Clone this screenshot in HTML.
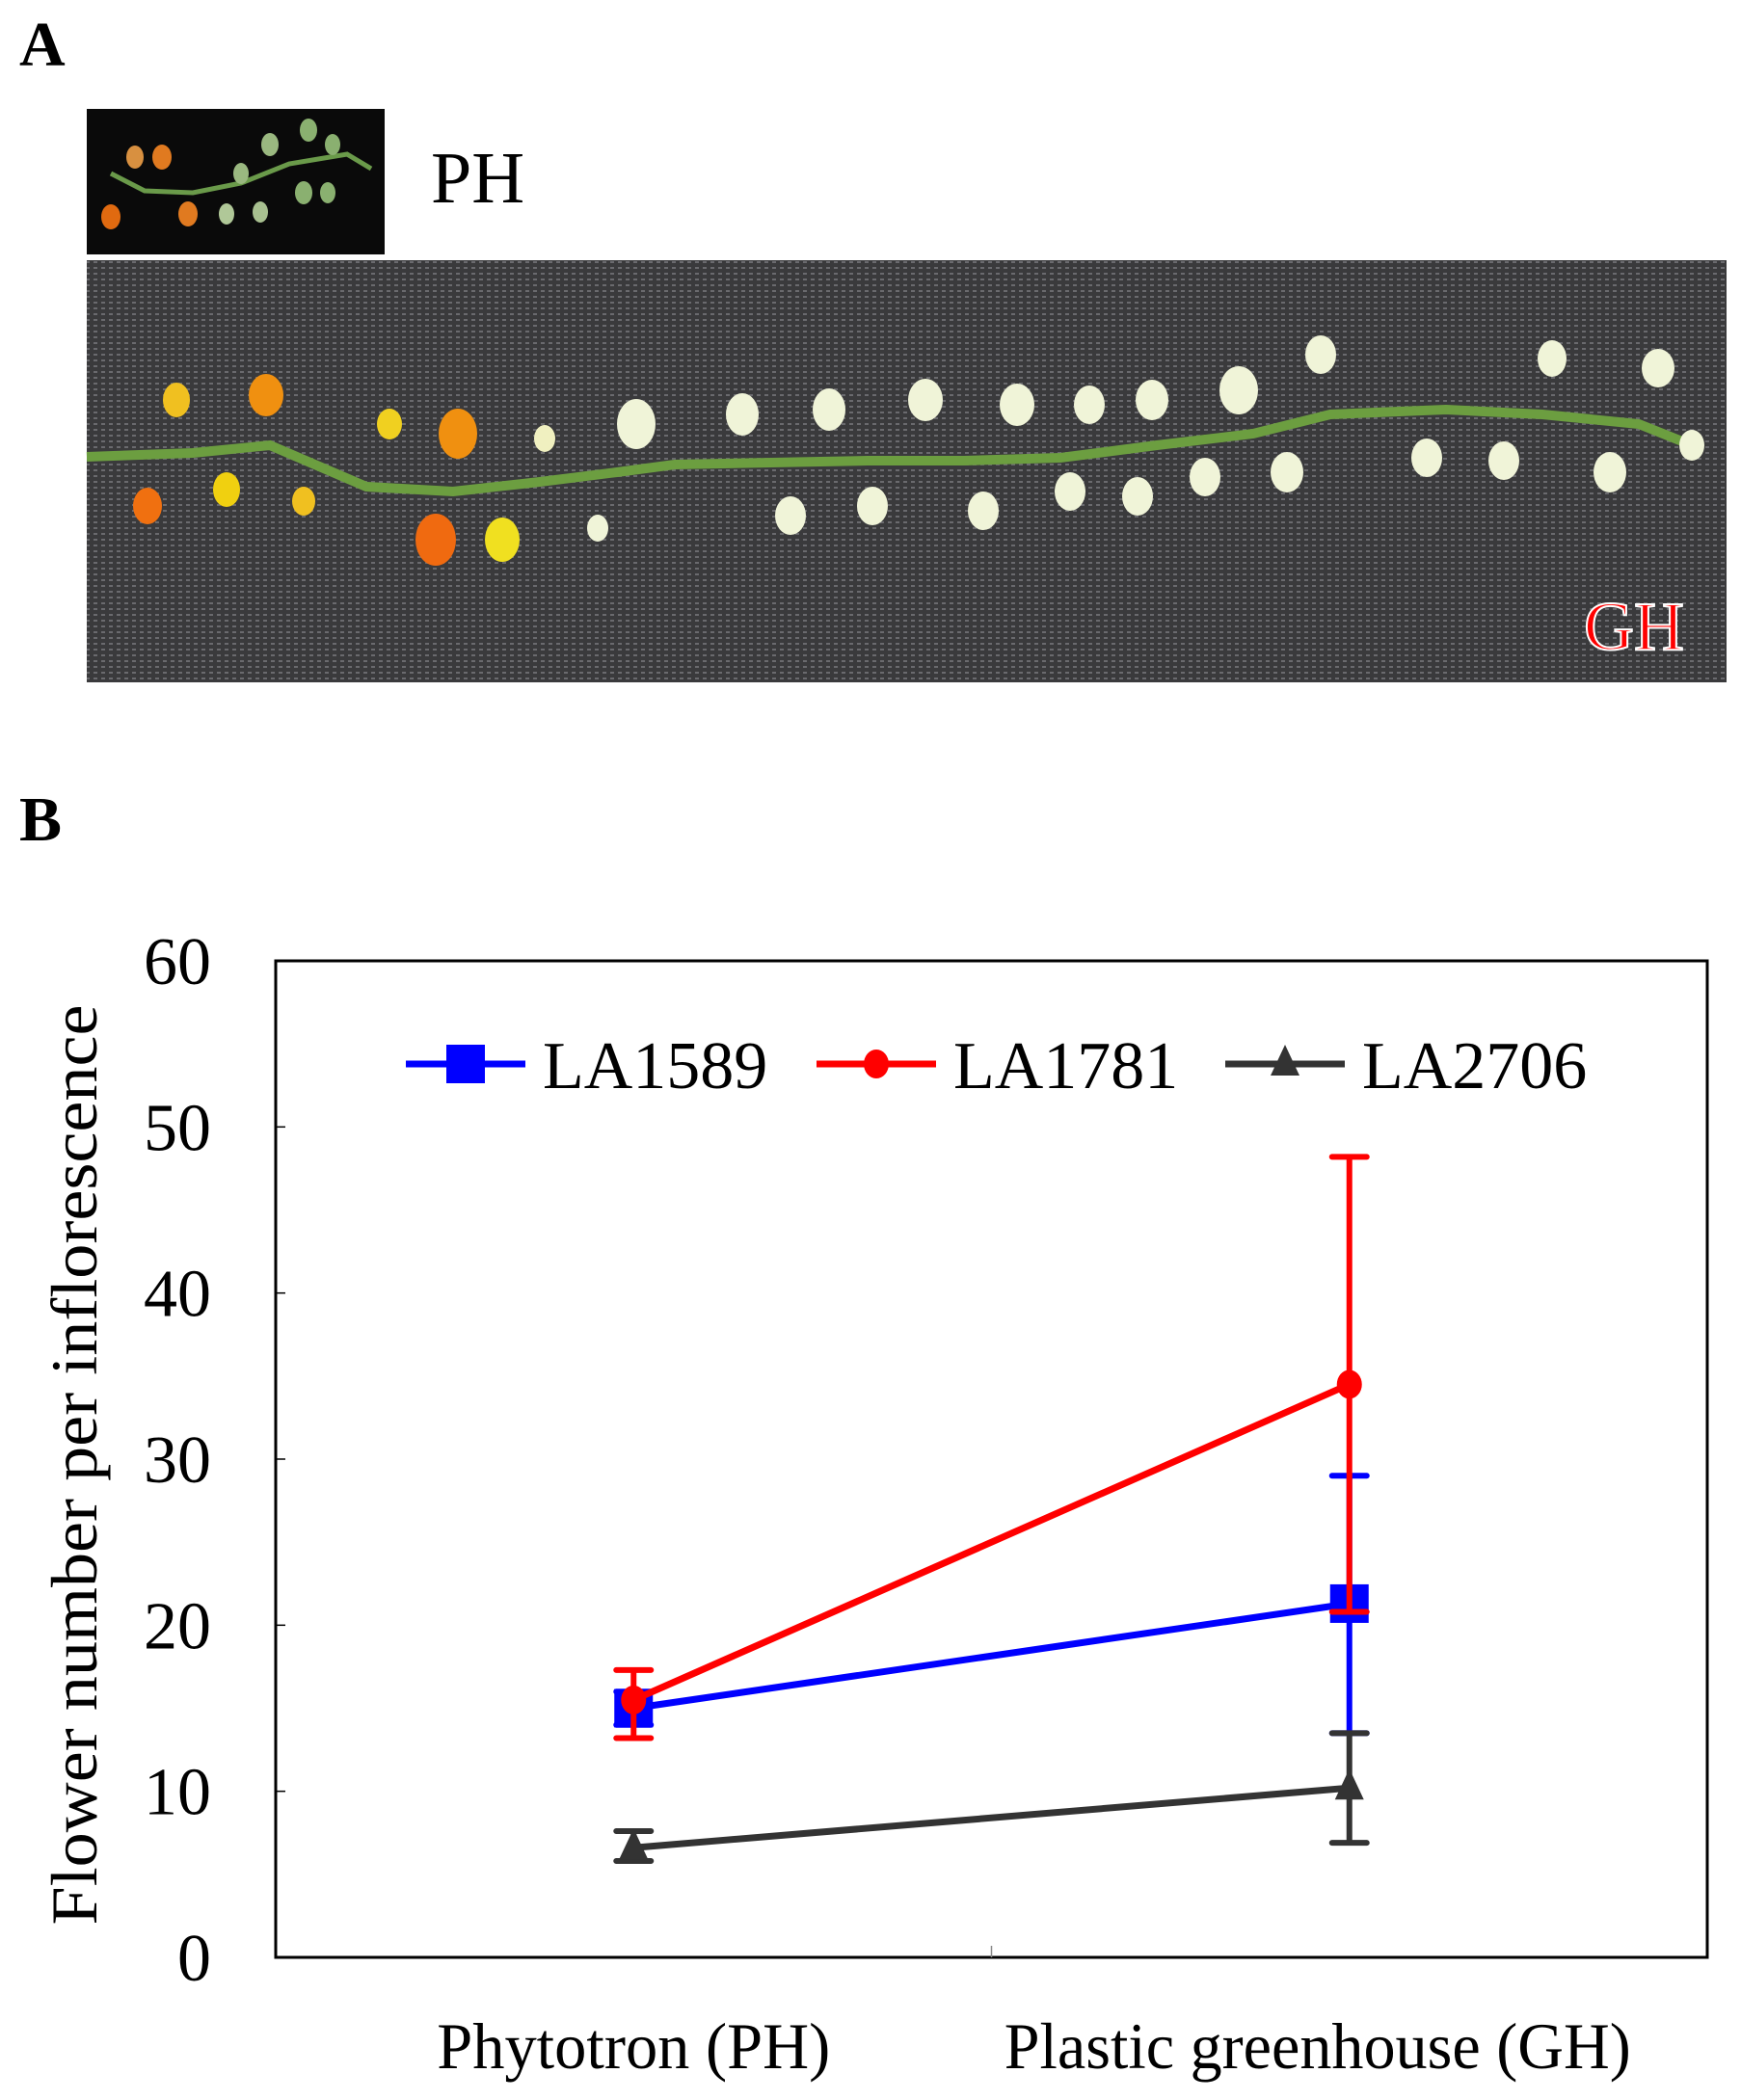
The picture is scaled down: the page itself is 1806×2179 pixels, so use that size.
<!DOCTYPE html>
<html><head><meta charset="utf-8"><style>
html,body{margin:0;padding:0;background:#fff;}
svg{display:block;font-family:"Liberation Serif",serif;}
</style></head><body>
<svg id="fig" width="1806" height="2179" viewBox="0 0 1806 2179">
<text x="20" y="68" font-size="66" font-weight="bold">A</text>
<g>
<rect x="90" y="113" width="309" height="151" fill="#0a0a0a"/>
<polyline points="115,180 150,198 200,200 250,190 300,170 360,160 385,175" fill="none" stroke="#6a9a4a" stroke-width="5"/>
<ellipse cx="140" cy="163" rx="9" ry="12" fill="#d89040"/><ellipse cx="168" cy="163" rx="10" ry="13" fill="#e07a20"/>
<ellipse cx="115" cy="225" rx="10" ry="13" fill="#e06a10"/><ellipse cx="195" cy="222" rx="10" ry="13" fill="#e07a20"/>
<ellipse cx="250" cy="180" rx="8" ry="11" fill="#9ab880"/><ellipse cx="280" cy="150" rx="9" ry="12" fill="#9ab880"/>
<ellipse cx="320" cy="135" rx="9" ry="12" fill="#8ab070"/><ellipse cx="345" cy="150" rx="8" ry="11" fill="#8ab070"/>
<ellipse cx="235" cy="222" rx="8" ry="11" fill="#b0c898"/><ellipse cx="270" cy="220" rx="8" ry="11" fill="#a8c090"/>
<ellipse cx="315" cy="200" rx="9" ry="12" fill="#8ab070"/><ellipse cx="340" cy="200" rx="8" ry="11" fill="#8ab070"/>
</g>
<text x="447" y="210" font-size="76">PH</text>
<g>
<defs><pattern id="weave" width="8" height="6" patternUnits="userSpaceOnUse"><rect width="8" height="6" fill="#3a3a3c"/><rect x="1" y="1" width="4" height="2" fill="#6a6a6e"/></pattern></defs>
<rect x="90" y="270" width="1701" height="438" fill="url(#weave)"/>
<polyline points="90,474 200,470 280,462 380,505 470,510 560,500 640,490 700,482 800,480 900,478 1000,478 1100,475 1200,462 1300,450 1380,430 1500,425 1600,430 1700,440 1750,460" fill="none" stroke="#6c9e40" stroke-width="10"/>
<g fill="#f0f4d8">
<ellipse cx="660" cy="440" rx="20" ry="26"/><ellipse cx="770" cy="430" rx="17" ry="22"/><ellipse cx="860" cy="425" rx="17" ry="22"/><ellipse cx="960" cy="415" rx="18" ry="22"/><ellipse cx="1055" cy="420" rx="18" ry="22"/><ellipse cx="1130" cy="420" rx="16" ry="20"/><ellipse cx="1195" cy="415" rx="17" ry="21"/><ellipse cx="1285" cy="405" rx="20" ry="25"/><ellipse cx="1370" cy="368" rx="16" ry="20"/><ellipse cx="1610" cy="372" rx="15" ry="19"/><ellipse cx="1720" cy="382" rx="17" ry="20"/>
<ellipse cx="820" cy="535" rx="16" ry="20"/><ellipse cx="905" cy="525" rx="16" ry="20"/><ellipse cx="1020" cy="530" rx="16" ry="20"/><ellipse cx="1110" cy="510" rx="16" ry="20"/><ellipse cx="1180" cy="515" rx="16" ry="20"/><ellipse cx="1250" cy="495" rx="16" ry="20"/><ellipse cx="1335" cy="490" rx="17" ry="21"/><ellipse cx="1480" cy="475" rx="16" ry="20"/><ellipse cx="1560" cy="478" rx="16" ry="20"/><ellipse cx="1670" cy="490" rx="17" ry="21"/><ellipse cx="1755" cy="462" rx="13" ry="16"/><ellipse cx="620" cy="548" rx="11" ry="14"/>
</g>
<ellipse cx="183" cy="415" rx="14" ry="18" fill="#f0c020"/><ellipse cx="276" cy="410" rx="18" ry="22" fill="#f09010"/><ellipse cx="404" cy="440" rx="13" ry="16" fill="#f0d020"/><ellipse cx="475" cy="450" rx="20" ry="26" fill="#f09010"/><ellipse cx="565" cy="455" rx="11" ry="14" fill="#f0f0c0"/>
<ellipse cx="153" cy="525" rx="15" ry="19" fill="#f07010"/><ellipse cx="235" cy="508" rx="14" ry="18" fill="#f0d010"/><ellipse cx="315" cy="520" rx="12" ry="15" fill="#f0c020"/><ellipse cx="452" cy="560" rx="21" ry="27" fill="#f06a10"/><ellipse cx="521" cy="560" rx="18" ry="23" fill="#f0e020"/>
</g>
<text x="1643" y="674" font-size="72" fill="#ff0000" stroke="#fff" stroke-width="2">GH</text>
<text x="20" y="872" font-size="66" font-weight="bold">B</text>
<g id="chart"></g>
</svg>
<script>
const categories = ["Phytotron (PH)", "Plastic greenhouse (GH)"];
const yTicks = [0, 10, 20, 30, 40, 50, 60];
const seriesNames = ["LA1589", "LA1781", "LA2706"];
const la1589Mean = [15.0, 21.3];
const la1589Lo = [14.0, 13.5];
const la1589Hi = [16.0, 29.0];
const la1781Mean = [15.5, 34.5];
const la1781Lo = [13.2, 20.8];
const la1781Hi = [17.3, 48.2];
const la2706Mean = [6.6, 10.2];
const la2706Lo = [5.8, 6.9];
const la2706Hi = [7.6, 13.5];

const NS = "http://www.w3.org/2000/svg";
const g = document.getElementById('chart');
const L = 286, R = 1771, T = 997, B = 2031;
const yMin = 0, yMax = 60;
function yS(v){ return B - (v - yMin) / (yMax - yMin) * (B - T); }
function xS(i){ return L + (R - L) * (i + 0.5) / categories.length; }
function mk(tag, attrs, parent){ const e = document.createElementNS(NS, tag); for (const k in attrs) e.setAttribute(k, attrs[k]); (parent||g).appendChild(e); return e; }

const box = mk('rect', {x:L, y:T, width:R-L, height:B-T, fill:'none', stroke:'#000', 'stroke-width':3});


yTicks.forEach(v => {
  const t = mk('line', {x1:L, x2:L+10, y1:yS(v), y2:yS(v), stroke:'#000', 'stroke-width':1.5});
  
  
  const lb = mk('text', {x:L-67, y:yS(v)+24, 'font-size':70, 'text-anchor':'end'});
  lb.textContent = v;
  
  
});
const mid = mk('line', {x1:(L+R)/2, x2:(L+R)/2, y1:B, y2:B-12, stroke:'#888', 'stroke-width':1.5});


categories.forEach((c, i) => {
  const t = mk('text', {x:xS(i) - (i === 1 ? 33 : 0), y:2146, 'font-size':68, 'text-anchor':'middle', textLength:(i === 1 ? 650 : 408), lengthAdjust:'spacingAndGlyphs'});
  t.textContent = c;
  
  
});
const yt = mk('text', {x:0, y:0, 'font-size':68, 'text-anchor':'middle', textLength:955, lengthAdjust:'spacingAndGlyphs', transform:'translate(100,1520) rotate(-90)'});
yt.textContent = 'Flower number per inflorescence';



const series = [
  {name:seriesNames[0], color:'#0000ff', mean:la1589Mean, lo:la1589Lo, hi:la1589Hi, marker:'square'},
  {name:seriesNames[1], color:'#ff0000', mean:la1781Mean, lo:la1781Lo, hi:la1781Hi, marker:'circle'},
  {name:seriesNames[2], color:'#333333', mean:la2706Mean, lo:la2706Lo, hi:la2706Hi, marker:'triangle'}
];
function marker(type, x, y, color, parent){
  let m;
  if (type === 'square') m = mk('rect', {x:x-20, y:y-20, width:40, height:40, fill:color}, parent);
  else if (type === 'circle') m = mk('ellipse', {cx:x, cy:y, rx:13, ry:15, fill:color}, parent);
  else m = mk('polygon', {points:`${x},${y-20} ${x+15},${y+12} ${x-15},${y+12}`, fill:color}, parent);
  return m;
}
series.forEach(s => {
  const sg = mk('g', {});
  
  
  s.mean.forEach((v, i) => {
    const x = xS(i);
    const e = mk('path', {d:`M${x},${yS(s.lo[i])}V${yS(s.hi[i])}M${x-18},${yS(s.lo[i])}H${x+18}M${x-18},${yS(s.hi[i])}H${x+18}`, stroke:s.color, 'stroke-width':6, 'stroke-linecap':'round', fill:'none'}, sg);
    
    
  });
  const pts = s.mean.map((v, i) => xS(i) + ',' + yS(v)).join(' ');
  const ln = mk('polyline', {points:pts, fill:'none', stroke:s.color, 'stroke-width':7}, sg);
  
  
  s.mean.forEach((v, i) => {
    const m = marker(s.marker, xS(i), yS(v), s.color, sg);
    
    
  });
});
const legendX = [421, 847, 1271];
series.forEach((s, k) => {
  const lg = mk('g', {});
  
  
  const x0 = legendX[k], y0 = 1104;
  mk('line', {x1:x0, x2:x0+124, y1:y0, y2:y0, stroke:s.color, 'stroke-width':7}, lg);
  marker(s.marker, x0+62, y0, s.color, lg);
  const t = mk('text', {x:x0+142, y:y0+25, 'font-size':70}, lg);
  t.textContent = s.name;
});
</script>
</body></html>
